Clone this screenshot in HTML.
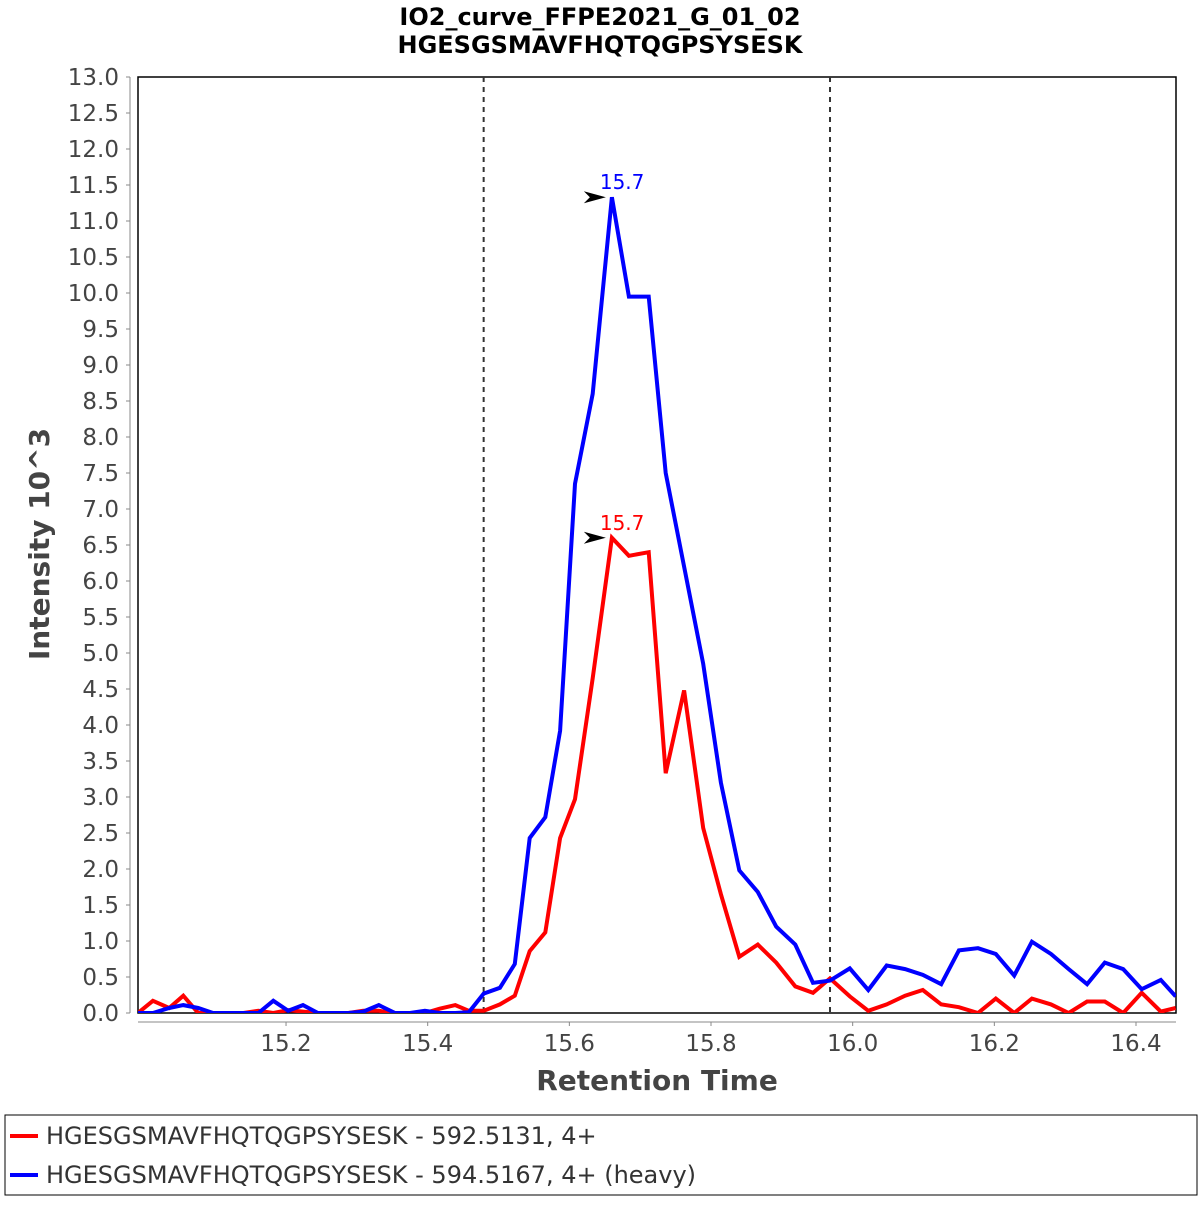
<!DOCTYPE html>
<html><head><meta charset="utf-8"><style>
body{margin:0;background:#fff;width:1200px;height:1200px;overflow:hidden}
svg text{font-family:"DejaVu Sans","Liberation Sans",sans-serif}
</style></head><body>
<svg id="chart" width="1200" height="1200" xmlns="http://www.w3.org/2000/svg">
<text x="600" y="25" text-anchor="middle" font-size="24" font-weight="bold" fill="#000">IO2_curve_FFPE2021_G_01_02</text>
<text x="600" y="53" text-anchor="middle" font-size="24" font-weight="bold" fill="#000">HGESGSMAVFHQTQGPSYSESK</text>
<defs><clipPath id="clip"><rect x="138" y="77" width="1038" height="936"/></clipPath></defs>
<rect x="138" y="77" width="1038" height="936" fill="#fff" stroke="#000" stroke-width="1.5"/>
<g id="yaxis"></g>
<g id="xaxis"></g>
<g id="marks" clip-path="url(#clip)"></g>
<g id="annot"></g>
<text transform="translate(49,544) rotate(-90)" text-anchor="middle" font-size="28" font-weight="bold" fill="#444">Intensity 10^3</text>
<text x="657" y="1090" text-anchor="middle" font-size="28" font-weight="bold" fill="#444">Retention Time</text>
<g>
<rect x="5" y="1115" width="1192" height="80" fill="#fff" stroke="#000" stroke-width="1"/>
<g><line x1="10" y1="1136" x2="38" y2="1136" stroke="#f00" stroke-width="4"/><text x="46" y="1144" font-size="24" fill="#333">HGESGSMAVFHQTQGPSYSESK - 592.5131, 4+</text></g>
<g><line x1="10" y1="1175" x2="38" y2="1175" stroke="#00f" stroke-width="4"/><text x="46" y="1183" font-size="24" fill="#333">HGESGSMAVFHQTQGPSYSESK - 594.5167, 4+ (heavy)</text></g>
</g>
</svg>
<script>
const times=[14.991,15.012,15.035,15.055,15.076,15.097,15.118,15.140,15.161,15.182,15.203,15.224,15.245,15.267,15.288,15.309,15.331,15.354,15.375,15.396,15.417,15.439,15.458,15.479,15.502,15.523,15.544,15.566,15.587,15.608,15.633,15.660,15.684,15.712,15.736,15.762,15.789,15.814,15.840,15.866,15.892,15.919,15.944,15.968,15.996,16.022,16.048,16.074,16.099,16.125,16.150,16.177,16.202,16.228,16.253,16.280,16.305,16.331,16.356,16.382,16.408,16.435,16.456];
const lightValues=[0,0.17,0.07,0.24,0,0,0,0,0.03,0,0.04,0.02,0,0,0,0.03,0.03,0,0,0,0.06,0.11,0.03,0.03,0.12,0.24,0.86,1.12,2.43,2.97,4.65,6.6,6.35,6.4,3.33,4.48,2.57,1.65,0.78,0.95,0.7,0.37,0.28,0.48,0.23,0.03,0.12,0.24,0.32,0.12,0.08,0,0.2,0,0.2,0.12,0,0.16,0.16,0,0.28,0.02,0.07];
const heavyValues=[0,0,0.07,0.11,0.07,0,0,0,0,0.17,0.03,0.11,0,0,0,0.02,0.11,0,0,0.03,0,0,0.01,0.27,0.35,0.68,2.43,2.72,3.92,7.35,8.6,11.33,9.95,9.95,7.5,6.2,4.85,3.2,1.98,1.68,1.2,0.95,0.42,0.45,0.62,0.32,0.66,0.61,0.53,0.4,0.87,0.9,0.82,0.52,0.99,0.82,0.61,0.4,0.7,0.61,0.33,0.46,0.23];
const yTicks=[0,0.5,1,1.5,2,2.5,3,3.5,4,4.5,5,5.5,6,6.5,7,7.5,8,8.5,9,9.5,10,10.5,11,11.5,12,12.5,13];
const xTicks=[15.2,15.4,15.6,15.8,16.0,16.2,16.4];
const boundaries=[15.479,15.968];
const peakTimes=[15.660,15.660];
const peakValues=[6.6,11.33];
const peakLabels=["15.7","15.7"];
const NS="http://www.w3.org/2000/svg";
const xS=t=>138+(t-14.991)*708.3;
const yS=v=>1013-v*72;
function mk(tag,attrs,parent){const e=document.createElementNS(NS,tag);for(const k in attrs)e.setAttribute(k,attrs[k]);parent.appendChild(e);return e;}
const ya=document.getElementById('yaxis'),xa=document.getElementById('xaxis'),marks=document.getElementById('marks'),an=document.getElementById('annot');
mk('line',{x1:130,y1:77,x2:130,y2:1013,stroke:'#888'},ya);
yTicks.forEach(v=>{const y=yS(v);mk('line',{x1:126,y1:y,x2:130,y2:y,stroke:'#888'},ya);
const t=mk('text',{x:119,y:y+8,'text-anchor':'end','font-size':23,fill:'#444'},ya);t.textContent=v.toFixed(1);

});
mk('line',{x1:138,y1:1022,x2:1176,y2:1022,stroke:'#888'},xa);
xTicks.forEach(v=>{const x=xS(v);mk('line',{x1:x,y1:1022,x2:x,y2:1026,stroke:'#888'},xa);
const t=mk('text',{x:x,y:1051,'text-anchor':'middle','font-size':23,fill:'#444'},xa);t.textContent=v.toFixed(1);

});
boundaries.forEach(b=>{const l=mk('line',{x1:xS(b),y1:77,x2:xS(b),y2:1013,stroke:'#333','stroke-width':2,'stroke-dasharray':'5,5'},marks);

});
function series(vals,color,name){const pts=vals.map((v,i)=>xS(times[i]).toFixed(1)+','+yS(v).toFixed(1)).join(' ');
const p=mk('polyline',{points:pts,fill:'none',stroke:color,'stroke-width':4,'stroke-linejoin':'miter'},marks);

}
series(lightValues,'#f00','light-series-line');
series(heavyValues,'#00f','heavy-series-line');
const colors=['#f00','#00f'];
peakTimes.forEach((t,i)=>{const x=xS(t),y=yS(peakValues[i]);
const a=mk('polygon',{points:`${x-28},${y-6} ${x-6},${y} ${x-28},${y+6} ${x-22},${y}`,fill:'#000'},an);


const tx=mk('text',{x:x-12,y:y-8,'font-size':20,fill:colors[i]},an);tx.textContent=peakLabels[i];

});
</script>
</body></html>
